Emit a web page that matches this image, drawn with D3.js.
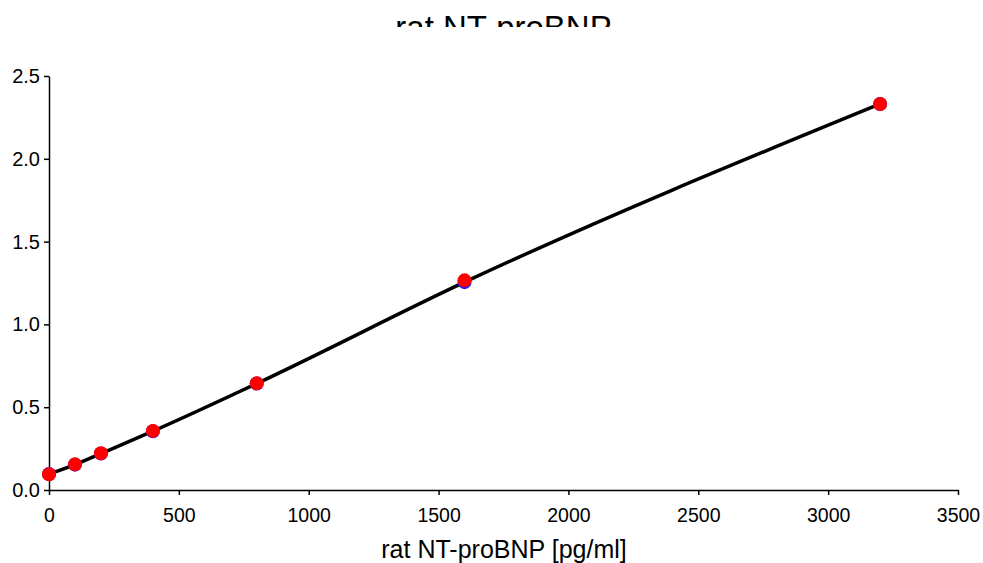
<!DOCTYPE html>
<html>
<head>
<meta charset="utf-8">
<script src="https://cdn.jsdelivr.net/npm/d3@7"></script>
<style>
  body { margin: 0; background: #fff; }
  svg { font-family: Arial, "Liberation Sans", sans-serif; }
</style>
</head>
<body>
<div id="chart"></div>
<script>
// data
const concentration = [0, 100, 200, 400, 800, 1600, 3200];
const odMeasured = [0.095, 0.155, 0.222, 0.357, 0.644, 1.266, 2.331];
const odFitted = [0.096, 0.153, 0.22, 0.355, 0.643, 1.255, 2.331];
const xTicks = [0, 500, 1000, 1500, 2000, 2500, 3000, 3500];
const yTicks = [0.0, 0.5, 1.0, 1.5, 2.0, 2.5];

const svg_width = 983;
const svg_height = 563;
const plotLeft = 49, plotRight = 958, plotTop = 76, plotBottom = 490;

let svg = d3.select("#chart")
  .append("svg")
    .attr("width", svg_width)
    .attr("height", svg_height)

// title, its lower part is hidden like in the original
svg.append("clipPath")
    .attr("id", "titleClip")
  .append("rect")
    .attr("x", 0).attr("y", 0)
    .attr("width", svg_width).attr("height", 27)

svg.append("text")
    .attr("clip-path", "url(#titleClip)")
    .attr("x", 503.5)
    .attr("y", 39)
    .attr("text-anchor", "middle")
    .attr("font-size", 33)
    .text("rat NT-proBNP")

const x = d3.scaleLinear().domain([0, 3500]).range([plotLeft, plotRight]);
const y = d3.scaleLinear().domain([0, 2.5]).range([plotBottom, plotTop]);

let xAxis = svg.append("g")
    .attr("transform", "translate(0," + plotBottom + ")")
    .call(d3.axisBottom(x).tickValues(xTicks).tickFormat(d3.format("d")).tickSize(5).tickPadding(13).tickSizeOuter(0))
xAxis.selectAll("text").attr("font-size", 19.5).attr("fill", "#000")

let yAxis = svg.append("g")
    .attr("transform", "translate(" + plotLeft + ",0)")
    .call(d3.axisLeft(y).tickValues(yTicks).tickFormat(d3.format(".1f")).tickSize(5).tickPadding(4).tickSizeOuter(0))
yAxis.selectAll("text").attr("font-size", 20).attr("fill", "#000")

svg.selectAll(".domain, .tick line").attr("stroke", "#000").attr("stroke-width", 1.5)
svg.selectAll(".tick text").attr("font-family", "Arial, 'Liberation Sans', sans-serif")

svg.append("text")
    .attr("x", 504)
    .attr("y", 558)
    .attr("text-anchor", "middle")
    .attr("font-size", 25)
    .text("rat NT-proBNP [pg/ml]")

// fitted curve
const fitLine = d3.line()
    .x((d, i) => x(concentration[i]))
    .y(d => y(d))
    .curve(d3.curveMonotoneX);

svg.append("path")
    .datum(odFitted)
    .attr("d", fitLine)
    .attr("fill", "none")
    .attr("stroke", "#000")
    .attr("stroke-width", 3.5)

// fitted points (blue) under the measured ones (red)
svg.selectAll(".fitPt")
  .data(odFitted)
  .enter().append("circle")
    .attr("cx", (d, i) => x(concentration[i]))
    .attr("cy", d => y(d))
    .attr("r", 7)
    .attr("fill", "#1f1fff")

svg.selectAll(".measPt")
  .data(odMeasured)
  .enter().append("circle")
    .attr("cx", (d, i) => x(concentration[i]))
    .attr("cy", d => y(d))
    .attr("r", 7)
    .attr("fill", "#ff0000")
</script>
</body>
</html>
